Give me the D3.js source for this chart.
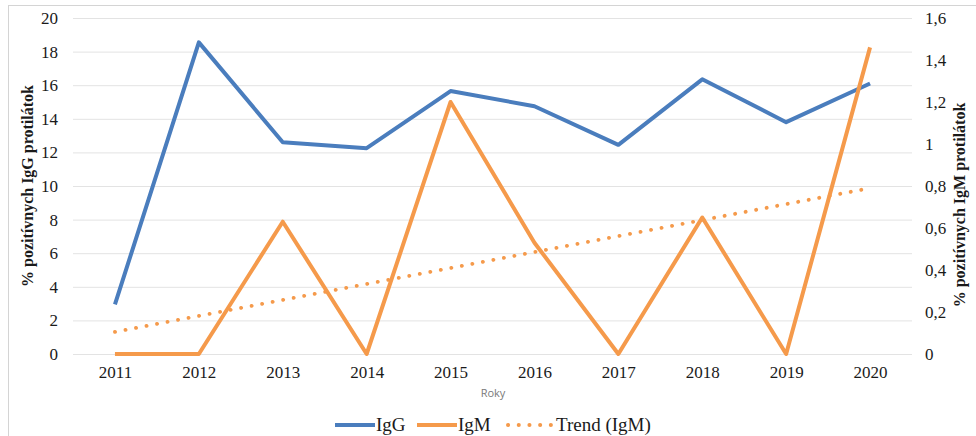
<!DOCTYPE html>
<html>
<head>
<meta charset="utf-8">
<script src="https://cdn.jsdelivr.net/npm/d3@7"></script>
<style>
  body { margin: 0; background: #fff; }
  svg text { font-family: "Liberation Serif", "Times New Roman", serif; fill: #1a1a1a; }
</style>
</head>
<body>
<div id="c"></div>
<script>
// data
var years = [2011, 2012, 2013, 2014, 2015, 2016, 2017, 2018, 2019, 2020];
var igg = [2.95, 18.55, 12.6, 12.25, 15.65, 14.75, 12.45, 16.35, 13.8, 16.1];
var igm = [0, 0, 0.63, 0, 1.2, 0.53, 0, 0.65, 0, 1.46];
// trend (IgM) end points, as drawn
var trend_years = [2011, 2020];
var trend_vals = [0.105, 0.79];
var left_ticks = [0, 2, 4, 6, 8, 10, 12, 14, 16, 18, 20];
var right_ticks = [0, 0.2, 0.4, 0.6, 0.8, 1, 1.2, 1.4, 1.6];

var width = 976, height = 436;
var x_left = 73, x_right = 912;
var y_top = 18, y_bottom = 354;

var blue = '#4a7dbd';
var orange = '#f59a4b';

var svg = d3.select('#c').append('svg')
	.attr('width', width)
	.attr('height', height);

// frame
svg.append('rect')
	.attr('x', 8.5).attr('y', 5.5)
	.attr('width', 980).attr('height', 440)
	.attr('fill', 'none')
	.attr('stroke', '#d4d4d4');

var x_scale = d3.scalePoint()
	.domain(years)
	.range([x_left, x_right])
	.padding(0.5);

var y_left = d3.scaleLinear().domain([0, 20]).range([y_bottom, y_top]);
var y_right = d3.scaleLinear().domain([0, 1.6]).range([y_bottom, y_top]);

var comma = d3.formatLocale({decimal: ',', thousands: ' ', grouping: [3], currency: ['', '']}).format('~g');

// grid lines
svg.append('g')
	.attr('class', 'grid')
	.attr('transform', 'translate(' + x_left + ',0)')
	.call(d3.axisLeft(y_left).tickValues(left_ticks).tickSize(-(x_right - x_left)).tickFormat(''))
	.call(function(g) { g.select('.domain').remove(); })
	.selectAll('line')
	.attr('stroke', '#e3e3e3')
	.attr('stroke-width', 1);

function style_ticks(g) {
	g.select('.domain').remove();
	g.selectAll('text')
		.style('font-family', '"Liberation Serif", serif')
		.style('font-size', '17px')
		.style('fill', '#1a1a1a');
}

// left axis labels
svg.append('g')
	.attr('transform', 'translate(66,0)')
	.call(d3.axisLeft(y_left).tickValues(left_ticks).tickSize(0).tickPadding(8))
	.call(style_ticks);

// right axis labels
svg.append('g')
	.attr('transform', 'translate(917,0)')
	.call(d3.axisRight(y_right).tickValues(right_ticks).tickSize(0).tickPadding(8).tickFormat(comma))
	.call(style_ticks);

// x axis labels
svg.append('g')
	.attr('transform', 'translate(0,' + y_bottom + ')')
	.call(d3.axisBottom(x_scale).tickSize(0).tickPadding(12))
	.call(style_ticks);

// axis titles
svg.append('text')
	.attr('transform', 'translate(33,186) rotate(-90)')
	.attr('text-anchor', 'middle')
	.attr('font-size', 16)
	.attr('font-weight', 'bold')
	.text('% pozitívnych IgG protilátok');

svg.append('text')
	.attr('transform', 'translate(965,205) rotate(-90)')
	.attr('text-anchor', 'middle')
	.attr('font-size', 16)
	.attr('font-weight', 'bold')
	.text('% pozitívnych IgM protilátok');

svg.append('text')
	.attr('x', 493).attr('y', 397)
	.attr('text-anchor', 'middle')
	.style('font-size', '11px')
	.style('font-family', '"Open Sans", sans-serif')
	.style('fill', '#7a7a7a')
	.text('Roky');

// trend line (IgM)
var trend_line = d3.line()
	.x(function(d, i) { return x_scale(trend_years[i]); })
	.y(function(d) { return y_right(d); });

svg.append('path')
	.datum(trend_vals)
	.attr('d', trend_line)
	.attr('fill', 'none')
	.attr('stroke', orange)
	.attr('stroke-width', 3.8)
	.attr('stroke-linecap', 'round')
	.attr('stroke-dasharray', '0.1 10.6');

// series
var igg_line = d3.line()
	.x(function(d, i) { return x_scale(years[i]); })
	.y(function(d) { return y_left(d); });

var igm_line = d3.line()
	.x(function(d, i) { return x_scale(years[i]); })
	.y(function(d) { return y_right(d); });

svg.append('path')
	.datum(igg)
	.attr('d', igg_line)
	.attr('fill', 'none')
	.attr('stroke', blue)
	.attr('stroke-width', 4)
	.attr('stroke-linejoin', 'round');

svg.append('path')
	.datum(igm)
	.attr('d', igm_line)
	.attr('fill', 'none')
	.attr('stroke', orange)
	.attr('stroke-width', 4)
	.attr('stroke-linejoin', 'round');

// legend
var legend = [
	{name: 'IgG', color: blue, dash: null, x: 335},
	{name: 'IgM', color: orange, dash: null, x: 417},
	{name: 'Trend (IgM)', color: orange, dash: '0.1 10.6', x: 508}
];
var lg = svg.selectAll('.legend')
	.data(legend)
	.enter()
	.append('g')
	.attr('class', 'legend')
	.attr('transform', function(d) { return 'translate(' + d.x + ',425)'; });

lg.append('line')
	.attr('x1', 0).attr('x2', function(d) { return d.dash ? 45 : 40; })
	.attr('stroke', function(d) { return d.color; })
	.attr('stroke-width', 4)
	.attr('stroke-linecap', function(d) { return d.dash ? 'round' : 'butt'; })
	.attr('stroke-dasharray', function(d) { return d.dash; });

lg.append('text')
	.attr('x', function(d) { return d.dash ? 48 : 41; })
	.attr('y', 6)
	.attr('font-size', 19)
	.text(function(d) { return d.name; });
</script>
</body>
</html>
